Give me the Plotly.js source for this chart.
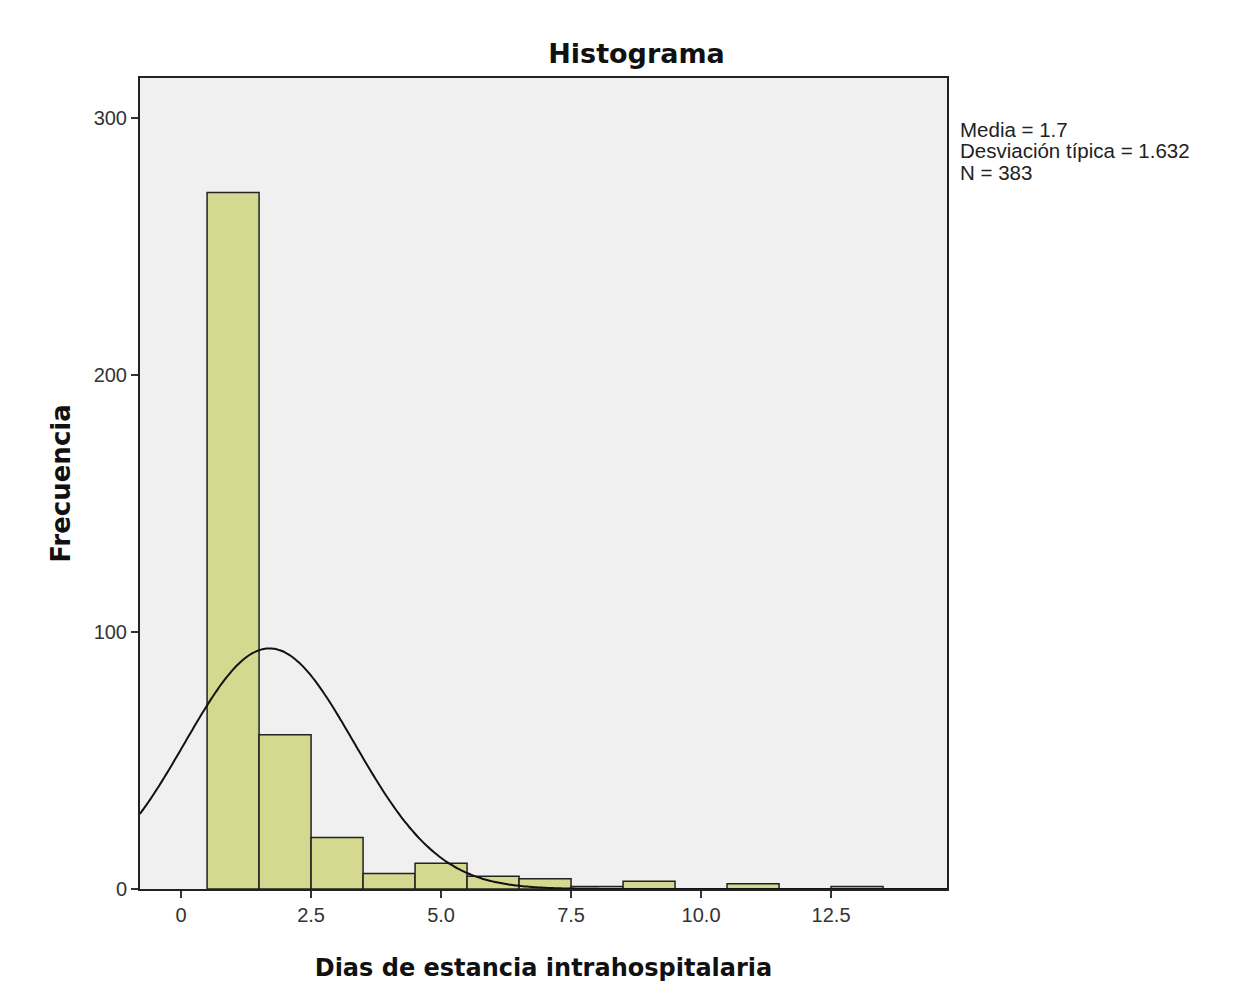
<!DOCTYPE html>
<html>
<head>
<meta charset="utf-8">
<script src="https://cdn.plot.ly/plotly-3.0.1.min.js"></script>
<style>html,body{margin:0;padding:0;background:#fff;}#chart{width:1258px;height:1006px;}</style>
</head>
<body>
<div id="chart"></div>
<script>
// Histogram bins (centres, width 1) and frequencies
const binCenters = [1, 2, 3, 4, 5, 6, 7, 8, 9, 10, 11, 12, 13];
const frequencies = [271, 60, 20, 6, 10, 5, 4, 1, 3, 0, 2, 0, 1];
// Summary statistics shown in the chart
const mean = 1.7;
const stdDev = 1.632;
const nObs = 383;
const binWidth = 1;
const xTickVals = [0, 2.5, 5, 7.5, 10, 12.5];
const xTickText = ['0', '2.5', '5.0', '7.5', '10.0', '12.5'];
const yTickVals = [0, 100, 200, 300];
const statsLines = ['Media = 1.7', 'Desviación típica = 1.632', 'N = 383'];

const xMin = -0.79, xMax = 14.73;

// Fitted normal curve from the stated mean, sd and N
const curveX = [], curveY = [];
for (let i = 0; i <= 300; i++) {
  const x = xMin + (xMax - xMin) * i / 300;
  const z = (x - mean) / stdDev;
  curveX.push(x);
  curveY.push(nObs * binWidth / (stdDev * Math.sqrt(2 * Math.PI)) * Math.exp(-0.5 * z * z));
}

const traces = [
  {
    type: 'bar', x: binCenters, y: frequencies, width: binWidth,
    marker: {color: '#d4d98f', line: {color: '#222', width: 1.5}},
    hoverinfo: 'x+y', showlegend: false
  },
  {
    type: 'scatter', mode: 'lines', x: curveX, y: curveY,
    line: {color: '#111', width: 2, shape: 'spline'}, showlegend: false
  }
];

const statsY = [0.936, 0.910, 0.884];
const annotations = statsLines.map((t, i) => ({
  text: t, xref: 'paper', yref: 'paper', x: 1, xshift: 11, y: statsY[i],
  xanchor: 'left', yanchor: 'middle', showarrow: false,
  font: {family: 'Liberation Sans, Arial, sans-serif', size: 20.5, color: '#222'}
}));

const layout = {
  width: 1258, height: 1006,
  margin: {l: 140, r: 311, t: 78, b: 117},
  paper_bgcolor: '#ffffff', plot_bgcolor: '#f0f0f0',
  title: {text: 'Histograma', xref: 'container', x: 0.506, xanchor: 'center',
          yref: 'container', y: 0.947, yanchor: 'middle',
          font: {family: 'DejaVu Sans, sans-serif', size: 27, color: '#111', weight: 'bold'}},
  xaxis: {
    range: [xMin, xMax], tickmode: 'array', tickvals: xTickVals, ticktext: xTickText,
    ticks: 'outside', ticklen: 7, tickwidth: 1.5, tickcolor: '#333',
    showgrid: false, zeroline: false, showline: true, linecolor: '#222', linewidth: 2, mirror: true,
    tickfont: {family: 'Liberation Sans, Arial, sans-serif', size: 20, color: '#333'},
    title: {text: 'Dias de estancia intrahospitalaria', standoff: 34,
            font: {family: 'DejaVu Sans, sans-serif', size: 24, color: '#111', weight: 'bold'}}
  },
  yaxis: {
    range: [0, 315.6], tickmode: 'array', tickvals: yTickVals,
    ticks: 'outside', ticklen: 7, tickwidth: 1.5, tickcolor: '#333',
    showgrid: false, zeroline: false, showline: true, linecolor: '#222', linewidth: 2, mirror: true,
    tickfont: {family: 'Liberation Sans, Arial, sans-serif', size: 20, color: '#333'},
    title: {text: 'Frecuencia', standoff: 16,
            font: {family: 'DejaVu Sans, sans-serif', size: 26, color: '#111', weight: 'bold'}}
  },
  bargap: 0,
  annotations: annotations
};

Plotly.newPlot('chart', traces, layout, {displayModeBar: false, staticPlot: true});
</script>
</body>
</html>
